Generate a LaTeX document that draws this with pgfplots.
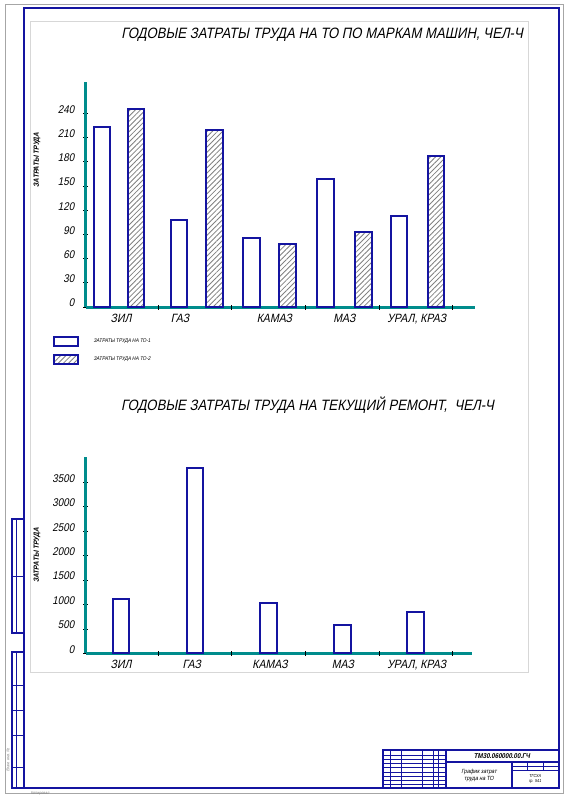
\documentclass[border=0pt]{standalone}
\usepackage{fontspec}
\setmainfont{Liberation Sans}[FakeSlant=0.2,FakeStretch=0.88]
\usepackage{pgfplots}
\pgfplotsset{compat=1.18}
\usetikzlibrary{patterns.meta}
\definecolor{axteal}{RGB}{0,140,140}
\definecolor{barblue}{RGB}{20,20,160}
\definecolor{framegray}{RGB}{215,215,215}

\pgfplotsset{
  gostaxis/.style={
    scale only axis,
    axis lines=left,
    axis line style={draw=axteal, line width=1.8pt, -},
    ymin=0,
    xmin=-0.476,
    tick align=center,
    major tick length=3pt,
    ytick style={draw=black, line width=0.5pt},
    xtick style={draw=none},
    yticklabel style={font=\fontsize{6.7}{7}\selectfont, anchor=east, xshift=-2pt, yshift=2.4pt},
    xticklabel style={font=\fontsize{7.2}{8}\selectfont, anchor=north, yshift=0.8pt},
    /pgf/number format/assume math mode=true,
    /pgf/number format/1000 sep={},
    scaled y ticks=false,
    extra x ticks={0.5,1.5,2.5,3.5,4.5},
    extra x tick labels={},
    extra x tick style={xtick style={draw=black, line width=0.5pt}},
    title style={font=\fontsize{9}{10}\selectfont, anchor=center},
    ylabel style={font=\fontsize{4.5}{5}\selectfont\bfseries, anchor=center},
    clip=false,
  },
  whitebar/.style={ybar, bar width=0.225, bar shift=0pt, draw=barblue, fill=white, line width=1.2pt,
    legend image code/.code={\draw[draw=barblue, fill=white, line width=1.2pt] (0pt,-2.7pt) rectangle (14pt,2.7pt); \path (21pt,0pt);}},
  hatchbar/.style={ybar, bar width=0.225, bar shift=0pt, draw=barblue, line width=1.2pt,
    pattern={Lines[angle=45,distance=2.2pt,line width=0.5pt]}, pattern color=gray,
    legend image code/.code={\draw[draw=barblue, line width=1.2pt, pattern={Lines[angle=45,distance=2.2pt,line width=0.5pt]}, pattern color=gray] (0pt,-2.7pt) rectangle (14pt,2.7pt); \path (21pt,0pt);}},
}

\begin{document}
\begin{tikzpicture}
\path[use as bounding box] (0pt,0pt) rectangle (343.2pt,-480pt);

\begin{scope}[x=0.6pt,y=-0.6pt]
  % sheet borders
  \draw[gray!70, line width=0.4pt] (5,4) rectangle (563,793);
  \draw[barblue, line width=1.2pt] (24,8) rectangle (559,788);
  \draw[framegray, line width=0.6pt] (30,21) rectangle (528,672);
  % left strip
  \draw[barblue, line width=0.9pt] (12,519) rectangle (24,633);
  \draw[barblue, line width=0.5pt] (16,519) -- (16,633) (12,576) -- (24,576);
  \draw[barblue, line width=0.9pt] (12,652) rectangle (24,788);
  \draw[barblue, line width=0.5pt] (16,652) -- (16,788);
  \foreach \yy in {685,710,735,767} \draw[barblue, line width=0.5pt] (12,\yy) -- (24,\yy);
  \node[rotate=90, gray, font=\fontsize{2.5}{3}\selectfont] at (8,760) {Взам. инв. №};
  \node[gray, font=\fontsize{2.5}{3}\selectfont] at (40,793) {Копировал};
  % title block
  \draw[barblue, line width=1.2pt] (383,750) rectangle (559,788);
  \foreach \xx in {390,401,422,433,438} \draw[barblue, line width=0.4pt] (\xx,750) -- (\xx,788);
  \draw[barblue, line width=0.9pt] (446,750) -- (446,788);
  \foreach \yy in {755,759,763,767,772,776,780,784} \draw[barblue, line width=0.4pt] (383,\yy) -- (446,\yy);
  \draw[barblue, line width=0.9pt] (446,762) -- (559,762);
  \draw[barblue, line width=0.9pt] (512,762) -- (512,788);
  \draw[barblue, line width=0.6pt] (512,766) -- (559,766) (512,770) -- (559,770);
  \draw[barblue, line width=0.6pt] (527,762) -- (527,770) (543,762) -- (543,770);
  \node[font=\fontsize{4.2}{5}\selectfont\bfseries] at (502,756) {ТМ30.060000.00.ГЧ};
  \node[font=\fontsize{3.6}{4.2}\selectfont, align=center] at (479,775) {График затрат\\труда на ТО};
  \node[font=\fontsize{2.6}{3}\selectfont, align=center] at (535,779) {ТГСХА\\гр. 541};
\end{scope}

% ---------- top chart ----------
\begin{axis}[gostaxis,
  at={(51.6pt,-184.2pt)}, anchor=south west,
  width=233.4pt, height=135pt,
  xmax=4.80, ymax=279,
  ytick={0,30,...,240},
  xtick={0,0.8,2.08,3.03,4.01},
  xticklabels={ЗИЛ,ГАЗ,КАМАЗ,МАЗ,{УРАЛ, КРАЗ}},
  title={ГОДОВЫЕ ЗАТРАТЫ ТРУДА НА ТО ПО МАРКАМ МАШИН, ЧЕЛ-Ч},
  title style={at={(axis description cs:0.607,1.165)}},
  ylabel={ЗАТРАТЫ ТРУДА},
  ylabel style={at={(axis description cs:-0.126,0.653)}},
  legend cell align=left,
  legend style={at={(axis description cs:-0.085,-0.125)}, anchor=north west,
    draw=none, fill=none, inner sep=0pt, row sep=2.8pt,
    font=\fontsize{3.2}{4}\selectfont},
]
\addplot[whitebar] coordinates {(-0.26,223) (0.785,108) (1.77,85) (2.77,159) (3.77,113)};
\addplot[hatchbar] coordinates {(0.20,246) (1.27,219) (2.26,78) (3.29,93) (4.27,187)};
\legend{ЗАТРАТЫ ТРУДА НА ТО-1, ЗАТРАТЫ ТРУДА НА ТО-2}
\end{axis}

% ---------- bottom chart ----------
\begin{axis}[gostaxis,
  at={(51.6pt,-392pt)}, anchor=south west,
  width=231.6pt, height=117.6pt,
  xmax=4.76, ymax=4015,
  ytick={0,500,...,3500},
  xtick={0,0.96,2.02,3.01,4.01},
  xticklabels={ЗИЛ,ГАЗ,КАМАЗ,МАЗ,{УРАЛ, КРАЗ}},
  title={ГОДОВЫЕ ЗАТРАТЫ ТРУДА НА ТЕКУЩИЙ РЕМОНТ,\ \ ЧЕЛ-Ч},
  title style={at={(axis description cs:0.574,1.216)}},
  ylabel={ЗАТРАТЫ ТРУДА},
  ylabel style={at={(axis description cs:-0.127,0.50)}},
]
\addplot[whitebar] coordinates {(0,1105) (1,3806) (2,1023) (3,579) (3.99,845)};
\end{axis}
\end{tikzpicture}
\end{document}
